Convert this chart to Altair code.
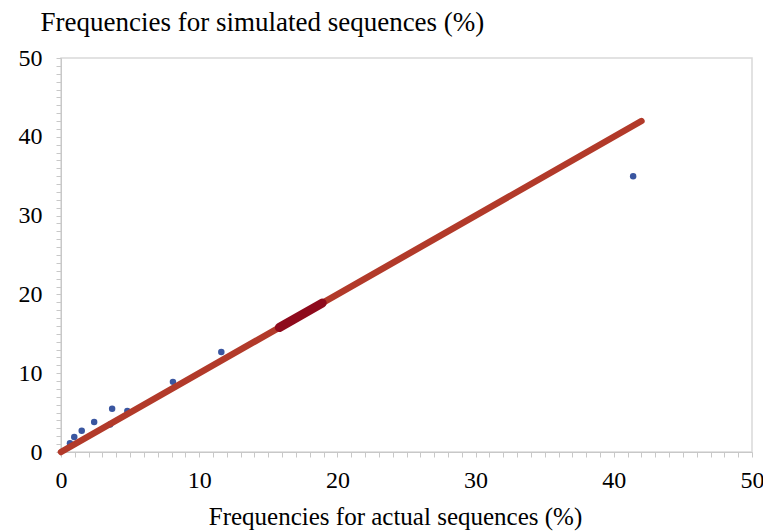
import altair as alt
import pandas as pd

# Observed points (actual %, simulated %)
actual = [0.65, 0.96, 1.5, 2.4, 3.55, 3.7, 4.8, 8.1, 11.6, 41.4]
simulated = [1.1, 1.9, 2.7, 3.8, 3.5, 5.5, 5.2, 8.9, 12.7, 35.0]

# Reference line y = x
line_x = [0, 42]
line_y = [0, 42]

# Highlighted cluster on the line
cluster_x = [15.8, 18.9]
cluster_y = [15.8, 18.9]

pts = pd.DataFrame({"x": actual, "y": simulated})
ln = pd.DataFrame({"x": line_x, "y": line_y})
cl = pd.DataFrame({"x": cluster_x, "y": cluster_y})

FONT = "Liberation Serif"

xscale = alt.Scale(domain=[0, 50], nice=False)
yscale = alt.Scale(domain=[0, 50], nice=False)

xaxis = alt.Axis(
    values=list(range(0, 51)),
    tickCount=51,
    labelExpr="datum.value % 10 == 0 ? datum.label : ''",
    labelOverlap=False,
    labelFlush=False,
    grid=False,
    domainColor="#C8C8C8",
    tickColor="#C8C8C8",
    tickSize=5,
    labelPadding=11,
    labelFont=FONT,
    labelFontSize=24,
    labelColor="#000000",
    title="Frequencies for actual sequences (%)",
    titleFont=FONT,
    titleFontSize=25,
    titleFontWeight="normal",
    titleColor="#000000",
    titlePadding=12,
    titleX=334,
)
yaxis = alt.Axis(
    values=list(range(0, 51)),
    tickCount=51,
    labelExpr="datum.value % 10 == 0 ? datum.label : ''",
    labelOverlap=False,
    labelFlush=False,
    grid=False,
    domainColor="#C8C8C8",
    tickColor="#C8C8C8",
    tickSize=5,
    labelPadding=14,
    labelFont=FONT,
    labelFontSize=24,
    labelColor="#000000",
    title="Frequencies for simulated sequences (%)",
    titleFont=FONT,
    titleFontSize=27,
    titleFontWeight="normal",
    titleColor="#000000",
    titleAngle=0,
    titleAlign="left",
    titleBaseline="alphabetic",
    titleX=-21,
    titleY=-28,
)

line = alt.Chart(ln).mark_line(color="#B23A2A", strokeWidth=6.5, strokeCap="round").encode(
    x=alt.X("x:Q", scale=xscale, axis=xaxis),
    y=alt.Y("y:Q", scale=yscale, axis=yaxis),
)
cluster = alt.Chart(cl).mark_line(color="#8E0A1C", strokeWidth=9, strokeCap="round").encode(
    x=alt.X("x:Q", scale=xscale),
    y=alt.Y("y:Q", scale=yscale),
)
points = alt.Chart(pts).mark_circle(color="#3A56A0", size=42, opacity=1).encode(
    x=alt.X("x:Q", scale=xscale),
    y=alt.Y("y:Q", scale=yscale),
)

chart = (
    alt.layer(points, line, cluster)
    .properties(
        width=691,
        height=394,
        autosize=alt.AutoSizeParams(type="none"),
        padding={"left": 61, "top": 58, "right": 11, "bottom": 79},
        background="white",
    )
    .configure_view(stroke="#D9D9D9", strokeWidth=1.5)
)

chart.save("out.html", embed_options={"renderer": "svg", "actions": False})
